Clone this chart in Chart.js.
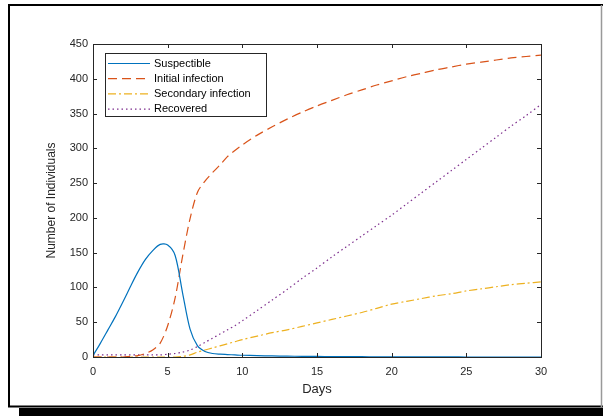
<!DOCTYPE html>
<html>
<head>
<meta charset="utf-8">
<script src="https://cdn.jsdelivr.net/npm/chart.js@4.4.1/dist/chart.umd.min.js"></script>
<style>
  html, body { margin: 0; padding: 0; background: #fff; }
  #wrap { width: 603px; height: 416px; position: relative; }
</style>
</head>
<body>
<div id="wrap"><canvas id="myChart" width="603" height="416"></canvas></div>
<script>
// data
const days = [0, 0.5, 1, 1.5, 2, 2.5, 3, 3.5, 4, 4.5, 5, 5.5, 6, 6.5, 7, 7.5, 8, 8.5, 9, 9.5, 10,
    11, 12, 13, 14, 15, 16, 17, 18, 19, 20, 21, 22, 23, 24, 25, 26, 27, 28, 29, 30];
const susceptible = [2, 20, 39, 58, 79, 101, 122, 140, 153, 162, 161, 146, 92, 40, 16, 8, 5, 4, 3.5, 3, 2.5,
    2, 1.5, 1.2, 1, 0.8, 0.6, 0.5, 0.4, 0.3, 0.2, 0.2, 0.1, 0.1, 0.1, 0, 0, 0, 0, 0, 0];
const initialInfection = [0, 0, 0, 0, 0, 1, 2, 5, 10, 20, 45, 85, 145, 199, 237, 253, 265, 276, 288, 297, 305,
    319, 331, 342, 352, 361, 369, 377, 384, 391, 397, 403, 408, 413, 417, 421, 424, 427, 430, 432, 434];
const secondaryInfection = [0, 0, 0, 0, 0, 0, 0, 0, 0, 0, 0, 0, 1, 3, 7, 10, 13, 16, 19, 22, 25,
    30, 35, 39, 44, 49, 54, 59, 64, 70, 76, 80, 84, 88, 91, 95, 98, 101, 104, 106, 108];
const recovered = [3, 3, 3, 3, 3, 3, 3, 3, 3, 3, 4, 5, 7, 10, 15, 21, 27, 33, 39, 45, 52,
    67, 82, 97, 113, 128, 144, 159, 174, 189, 204, 220, 236, 252, 268, 284, 300, 316, 332, 347, 363];
const xTicks = [0, 5, 10, 15, 20, 25, 30];
const yTicks = [0, 50, 100, 150, 200, 250, 300, 350, 400, 450];

const axisColor = '#262626';
const fontFamily = 'Arial, "Liberation Sans", Helvetica, sans-serif';

function toPoints(values) {
    return days.map((d, i) => ({ x: d, y: values[i] }));
}

function makeSet(label, values, color, dash) {
    return {
        label: label,
        data: toPoints(values),
        borderColor: color,
        backgroundColor: color,
        borderWidth: 1.2,
        borderDash: dash,
        pointRadius: 0,
        tension: 0.3,
        fill: false
    };
}

// white page, frame and the dark shadow under it
const framePlugin = {
    id: 'frame',
    beforeDraw(chart) {
        const c = chart.ctx;
        c.save();
        c.fillStyle = '#fff';
        c.fillRect(0, 0, 603, 416);
        c.fillStyle = '#000';
        c.fillRect(19, 408, 584, 8);
        c.strokeStyle = '#000';
        c.lineWidth = 2;
        c.beginPath();
        c.moveTo(9, 406.5);
        c.lineTo(9, 5);
        c.lineTo(603, 5);
        c.moveTo(8, 406.5);
        c.lineTo(603, 406.5);
        c.stroke();
        c.strokeStyle = '#999';
        c.lineWidth = 1.5;
        c.beginPath();
        c.moveTo(601.5, 5);
        c.lineTo(601.5, 407);
        c.stroke();
        c.restore();
    }
};

// MATLAB style box with inward ticks, plus the legend in the upper left
const boxPlugin = {
    id: 'box',
    afterDatasetsDraw(chart) {
        const c = chart.ctx;
        const a = chart.chartArea;
        const xs = chart.scales.x;
        const ys = chart.scales.y;
        c.save();
        c.strokeStyle = axisColor;
        c.lineWidth = 1;
        c.strokeRect(Math.round(a.left) + 0.5, Math.round(a.top) + 0.5,
            Math.round(a.right - a.left), Math.round(a.bottom - a.top));
        c.beginPath();
        xTicks.forEach(t => {
            const px = Math.round(xs.getPixelForValue(t)) + 0.5;
            c.moveTo(px, a.bottom);
            c.lineTo(px, a.bottom - 4);
            c.moveTo(px, a.top);
            c.lineTo(px, a.top + 4);
        });
        yTicks.forEach(t => {
            const py = Math.round(ys.getPixelForValue(t)) + 0.5;
            c.moveTo(a.left, py);
            c.lineTo(a.left + 4, py);
            c.moveTo(a.right, py);
            c.lineTo(a.right - 4, py);
        });
        c.stroke();

        // legend
        const lx = 105, ly = 53, lw = 161, lh = 63;
        c.fillStyle = '#fff';
        c.fillRect(lx, ly, lw, lh);
        c.strokeStyle = axisColor;
        c.lineWidth = 1;
        c.strokeRect(lx + 0.5, ly + 0.5, lw, lh);
        c.font = '11px ' + fontFamily;
        c.textBaseline = 'middle';
        c.textAlign = 'left';
        chart.data.datasets.forEach((ds, i) => {
            const y = 63.5 + i * 15.2;
            c.strokeStyle = ds.borderColor;
            c.lineWidth = 1.2;
            c.setLineDash(ds.borderDash || []);
            c.beginPath();
            c.moveTo(108, y);
            c.lineTo(150, y);
            c.stroke();
            c.setLineDash([]);
            c.fillStyle = '#000';
            c.fillText(ds.label, 154, y);
        });
        c.restore();
    }
};

const ctx = document.getElementById('myChart').getContext('2d');
new Chart(ctx, {
    type: 'line',
    data: {
        datasets: [
            makeSet('Suspectible', susceptible, '#0072BD', []),
            makeSet('Initial infection', initialInfection, '#D95319', [9, 5]),
            makeSet('Secondary infection', secondaryInfection, '#EDB120', [8, 3, 2, 3]),
            makeSet('Recovered', recovered, '#7E2F8E', [1.5, 3])
        ]
    },
    options: {
        responsive: false,
        animation: false,
        layout: { padding: { left: 44, top: 44, right: 62, bottom: 19 } },
        plugins: {
            legend: { display: false },
            tooltip: { enabled: false }
        },
        scales: {
            x: {
                type: 'linear',
                min: 0,
                max: 30,
                afterBuildTicks: (s) => { s.ticks = xTicks.map(v => ({ value: v })); },
                afterFit: (s) => { s.height = 40; },
                grid: { display: false, drawTicks: false },
                border: { display: false },
                ticks: {
                    padding: 8,
                    color: axisColor,
                    font: { size: 11, family: fontFamily },
                    maxRotation: 0
                },
                title: {
                    display: true,
                    text: 'Days',
                    color: axisColor,
                    padding: 0,
                    font: { size: 13, family: fontFamily }
                }
            },
            y: {
                type: 'linear',
                min: 0,
                max: 450,
                afterBuildTicks: (s) => { s.ticks = yTicks.map(v => ({ value: v })); },
                afterFit: (s) => { s.width = 49; },
                grid: { display: false, drawTicks: false },
                border: { display: false },
                ticks: {
                    padding: 5,
                    color: axisColor,
                    font: { size: 11, family: fontFamily }
                },
                title: {
                    display: true,
                    text: 'Number of Individuals',
                    color: axisColor,
                    padding: 0,
                    font: { size: 12, family: fontFamily }
                }
            }
        }
    },
    plugins: [framePlugin, boxPlugin]
});
</script>
</body>
</html>
